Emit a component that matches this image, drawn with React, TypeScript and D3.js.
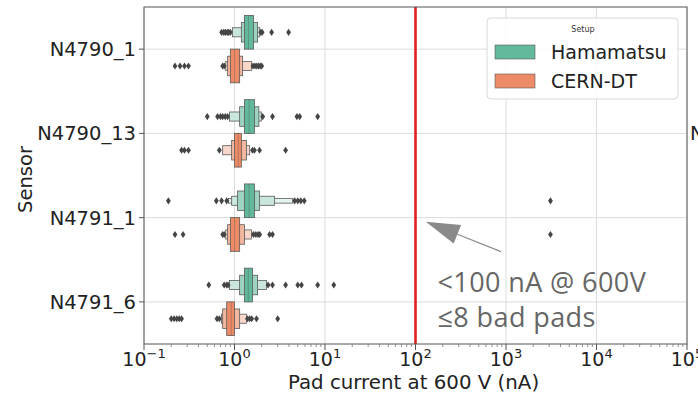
import React from 'react';
import * as d3 from 'd3';

const sensors = ['N4790_1', 'N4790_13', 'N4791_1', 'N4791_6'];
const setups = ['Hamamatsu', 'CERN-DT'];
const setupColors = ['#62b89a', '#ec8b65'];

// letter-value boxes per sensor (innermost first), in nA
const hamamatsuMedians = [1.43, 1.45, 1.45, 1.42];
const hamamatsuBoxes = [
  [[1.29, 1.62], [1.19, 1.8], [0.95, 1.9]],
  [[1.29, 1.66], [1.14, 1.86], [0.88, 1.98]],
  [[1.29, 1.66], [1.08, 1.89], [0.93, 2.77], [0.86, 4.4]],
  [[1.29, 1.58], [1.14, 1.8], [0.88, 2.26]],
];
const hamamatsuOutliers = [
  [0.72, 0.76, 0.79, 0.83, 0.86, 0.9, 1.95, 2.02, 2.57, 3.96],
  [0.5, 0.65, 0.7, 0.74, 0.79, 0.84, 2.05, 2.63, 4.9, 5.25, 8.3],
  [0.186, 0.63, 0.72, 0.82, 4.62, 5.0, 5.4, 5.9, 3100],
  [0.52, 0.77, 0.82, 0.85, 2.35, 2.63, 3.67, 5.0, 5.5, 8.3, 12.5],
];

const cernMedians = [1.0, 1.1, 1.0, 0.92];
const cernBoxes = [
  [[0.9, 1.14], [0.84, 1.23], [0.8, 1.54]],
  [[1.0, 1.19], [0.93, 1.36], [0.74, 1.47]],
  [[0.9, 1.14], [0.84, 1.29], [0.8, 1.54]],
  [[0.82, 1.0], [0.74, 1.14], [0.72, 1.36]],
];
const cernOutliers = [
  [0.22, 0.25, 0.28, 0.31, 0.74, 0.77, 1.6, 1.68, 1.76, 1.84, 1.92, 2.0],
  [0.26, 0.28, 0.31, 0.68, 1.58, 1.66, 1.89, 3.67],
  [0.22, 0.27, 0.74, 0.77, 1.62, 1.72, 1.82, 1.9, 2.44, 2.63, 3100],
  [0.2, 0.215, 0.23, 0.245, 0.26, 0.64, 0.68, 1.39, 1.47, 1.55, 1.75, 3.0],
];

const xTicks = [-1, 0, 1, 2, 3, 4, 5];
const threshold = 100;

const medians = [hamamatsuMedians, cernMedians];
const boxes = [hamamatsuBoxes, cernBoxes];
const outliers = [hamamatsuOutliers, cernOutliers];

const levelWidths = [1, 0.58, 0.27, 0.14];
const levelWhite = [0, 0.38, 0.66, 0.84];

const W = 698;
const H = 394;
const m = { left: 144, right: 687, top: 7, bottom: 344 };
const font = 'DejaVu Sans, sans-serif';

export default function App() {
  const x = d3.scaleLog().domain([0.1, 1e5]).range([m.left, m.right]);
  const y = d3.scaleBand().domain(sensors).range([m.top, m.bottom]);
  const bw = y.bandwidth();
  const hue = d3.scaleBand().domain(setups).range([-0.4 * bw, 0.4 * bw]);
  const hw = hue.bandwidth();

  const minorTicks: number[] = [];
  for (let e = -1; e < 5; e++) for (let k = 2; k < 10; k++) minorTicks.push(k * Math.pow(10, e));

  const diamond = 'M0,-3.6L2.4,0L0,3.6L-2.4,0Z';

  const tipY = (y('N4791_1') as number) + bw / 2 + 4;
  const tip = [x(130), tipY];
  const tail = [x(880), tipY + 30];
  const ang = Math.atan2(tail[1] - tip[1], tail[0] - tip[0]);
  const hl = 34;
  const hwid = 10;
  const base = [tip[0] + hl * Math.cos(ang), tip[1] + hl * Math.sin(ang)];
  const head = [
    tip,
    [base[0] - hwid * Math.sin(ang), base[1] + hwid * Math.cos(ang)],
    [base[0] + hwid * Math.sin(ang), base[1] - hwid * Math.cos(ang)],
  ];

  return (
    <svg width={W} height={H} style={{ position: 'absolute', left: 0, top: 0, background: '#fff' }} fontFamily={font}>
      {/* grid */}
      {xTicks.map(e => (
        <line key={'gx' + e} x1={x(Math.pow(10, e))} x2={x(Math.pow(10, e))} y1={m.top} y2={m.bottom} stroke="#dcdcdc" strokeWidth={1} />
      ))}
      {sensors.map(s => {
        const cy = (y(s) as number) + bw / 2;
        return <line key={'gy' + s} x1={m.left} x2={m.right} y1={cy} y2={cy} stroke="#dcdcdc" strokeWidth={1} />;
      })}

      {/* boxen */}
      {setups.map((setup, si) =>
        sensors.map((s, i) => {
          const cy = (y(s) as number) + bw / 2 + (hue(setup) as number) + hw / 2;
          const lv = boxes[si][i];
          return (
            <g key={setup + s}>
              {lv
                .map((b, li) => ({ b, li }))
                .reverse()
                .map(({ b, li }) => {
                  const h = hw * levelWidths[li];
                  return (
                    <rect
                      key={li}
                      x={x(b[0])}
                      width={x(b[1]) - x(b[0])}
                      y={cy - h / 2}
                      height={h}
                      fill={d3.interpolateRgb(setupColors[si], '#ffffff')(levelWhite[li])}
                      stroke="#5a5a5a"
                      strokeWidth={0.8}
                    />
                  );
                })}
              <line x1={x(medians[si][i])} x2={x(medians[si][i])} y1={cy - hw / 2} y2={cy + hw / 2} stroke="#4a4a4a" strokeWidth={0.8} opacity={0.4} />
              {outliers[si][i].map((v, k) => (
                <path key={k} d={diamond} transform={`translate(${x(v)},${cy})`} fill="#454545" />
              ))}
            </g>
          );
        })
      )}

      {/* threshold */}
      <line x1={x(threshold)} x2={x(threshold)} y1={m.top} y2={m.bottom} stroke="#e02020" strokeWidth={2.6} />

      {/* spines */}
      <rect x={m.left} y={m.top} width={m.right - m.left} height={m.bottom - m.top} fill="none" stroke="#555" strokeWidth={1} />

      {/* x ticks */}
      {xTicks.map(e => {
        const px = x(Math.pow(10, e));
        return (
          <g key={'xt' + e}>
            <line x1={px} x2={px} y1={m.bottom} y2={m.bottom + 6} stroke="#555" />
            <text x={px} y={m.bottom + 22} textAnchor="middle" fontSize={19} fill="#222">
              10<tspan dy={-8} fontSize={13}>{e < 0 ? '\u2212' + -e : e}</tspan>
            </text>
          </g>
        );
      })}
      {minorTicks.map((v, k) => (
        <line key={'mt' + k} x1={x(v)} x2={x(v)} y1={m.bottom} y2={m.bottom + 3} stroke="#777" strokeWidth={0.8} />
      ))}
      <text x={(m.left + m.right) / 2 - 2} y={389} textAnchor="middle" fontSize={19.8} fill="#222">
        Pad current at 600 V (nA)
      </text>

      {/* y ticks */}
      {sensors.map(s => {
        const cy = (y(s) as number) + bw / 2;
        return (
          <g key={'yt' + s}>
            <line x1={m.left - 5} x2={m.left} y1={cy} y2={cy} stroke="#555" />
            <text x={m.left - 8} y={cy + 7} textAnchor="end" fontSize={19.5} fill="#222">
              {s}
            </text>
          </g>
        );
      })}
      <text transform={`translate(32,${(m.top + m.bottom) / 2 + 4}) rotate(-90)`} textAnchor="middle" fontSize={19.5} fill="#222">
        Sensor
      </text>

      {/* annotation */}
      <line x1={base[0]} y1={base[1]} x2={tail[0]} y2={tail[1]} stroke="#8a8a8a" strokeWidth={1.1} />
      <path d={'M' + head.map(p => p.join(',')).join('L') + 'Z'} fill="#8a8a8a" />
      <text x={x(175)} y={tipY + 70} fontSize={27} letterSpacing={0.4} fill="#666" fontFamily="Open Sans, sans-serif">
        {'<100 nA @ 600V'}
      </text>
      <text x={x(175)} y={tipY + 105} fontSize={27} letterSpacing={0.4} fill="#666" fontFamily="Open Sans, sans-serif">
        {'\u22648 bad pads'}
      </text>

      {/* legend */}
      <rect x={487} y={18} width={191} height={81} rx={4} fill="#fff" fillOpacity={0.85} stroke="#d8d8d8" />
      <text x={583} y={32} textAnchor="middle" fontSize={8} fill="#333">
        Setup
      </text>
      {setups.map((s, i) => (
        <g key={'lg' + s}>
          <rect x={495} y={45 + i * 29} width={40} height={14} fill={setupColors[i]} stroke="#5a5a5a" strokeWidth={0.6} />
          <text x={551} y={59 + i * 29} fontSize={19} fill="#222">
            {s}
          </text>
        </g>
      ))}

      {/* clipped label from neighbouring panel */}
      <text x={690} y={140} fontSize={19.5} fill="#222">
        N
      </text>
    </svg>
  );
}
